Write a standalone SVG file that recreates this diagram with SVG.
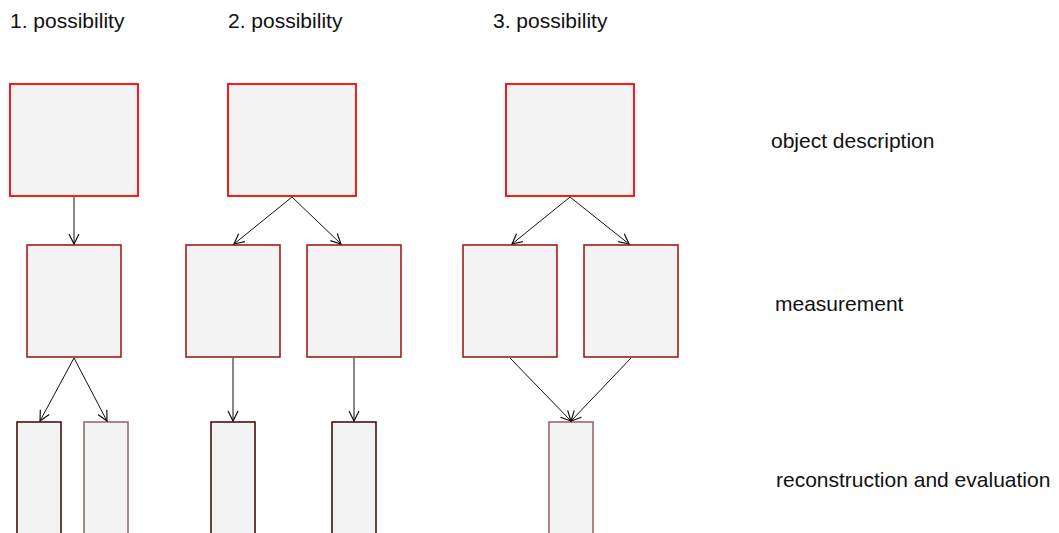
<svg xmlns="http://www.w3.org/2000/svg" width="1059" height="533" viewBox="0 0 1059 533">
  <style>
    .lbl { font-family: "Liberation Sans", Arial, sans-serif; font-size: 21px; fill: #111; }
    .top { fill: #f3f3f3; stroke: #ff0000; stroke-width: 1.8; }
    .mid { fill: #f3f3f3; stroke: #a01c1c; stroke-width: 1.6; }
    .bot { fill: #f3f3f3; stroke: #4a1010; stroke-width: 1.6; }
    .bot2 { fill: #f3f3f3; stroke: #9a6a6a; stroke-width: 1.6; }
    .edge { fill: none; stroke: #111; stroke-width: 1; marker-end: url(#arr); }
  </style>
  <defs>
    <marker id="arr" viewBox="0 0 12 12" refX="11" refY="6" markerWidth="12" markerHeight="12" markerUnits="userSpaceOnUse" orient="auto">
      <path d="M1,1 L11,6 L1,11" fill="none" stroke="#111" stroke-width="1.2"/>
    </marker>
  </defs>

  <!-- column headings and row labels -->
  <text class="lbl" x="10" y="28">1. possibility</text>
  <text class="lbl" x="228" y="28">2. possibility</text>
  <text class="lbl" x="493" y="28">3. possibility</text>
  <text class="lbl" x="771" y="148">object description</text>
  <text class="lbl" x="775" y="311">measurement</text>
  <text class="lbl" x="776" y="487">reconstruction and evaluation</text>

  <!-- possibility 1 -->
  <g id="p1-object"><rect class="top" x="10" y="84" width="128" height="112"/></g>
  <g id="p1-measure"><rect class="mid" x="27" y="245" width="94" height="112"/></g>
  <g id="p1-recon-a"><rect class="bot" x="17" y="422" width="44" height="120"/></g>
  <g id="p1-recon-b"><rect class="bot2" x="84" y="422" width="44" height="120"/></g>

  <!-- possibility 2 -->
  <g id="p2-object"><rect class="top" x="228" y="84" width="128" height="112"/></g>
  <g id="p2-measure-a"><rect class="mid" x="186" y="245" width="94" height="112"/></g>
  <g id="p2-measure-b"><rect class="mid" x="307" y="245" width="94" height="112"/></g>
  <g id="p2-recon-a"><rect class="bot" x="211" y="422" width="44" height="120"/></g>
  <g id="p2-recon-b"><rect class="bot" x="332" y="422" width="44" height="120"/></g>

  <!-- possibility 3 -->
  <g id="p3-object"><rect class="top" x="506" y="84" width="128" height="112"/></g>
  <g id="p3-measure-a"><rect class="mid" x="463" y="245" width="94" height="112"/></g>
  <g id="p3-measure-b"><rect class="mid" x="584" y="245" width="94" height="112"/></g>
  <g id="p3-recon"><rect class="bot2" x="549" y="422" width="44" height="120"/></g>

  <!-- connectors -->
  <g id="connectors">
    <line class="edge" x1="74" y1="197" x2="74" y2="244"/>
    <line class="edge" x1="74" y1="358" x2="40" y2="421"/>
    <line class="edge" x1="74" y1="358" x2="107" y2="421"/>

    <line class="edge" x1="292" y1="197" x2="234" y2="244"/>
    <line class="edge" x1="292" y1="197" x2="341" y2="244"/>
    <line class="edge" x1="233" y1="358" x2="233" y2="421"/>
    <line class="edge" x1="354" y1="358" x2="354" y2="421"/>

    <line class="edge" x1="570" y1="197" x2="512" y2="244"/>
    <line class="edge" x1="570" y1="197" x2="629" y2="244"/>
    <line class="edge" x1="510" y1="358" x2="571" y2="421"/>
    <line class="edge" x1="631" y1="358" x2="571" y2="421"/>
  </g>
</svg>
